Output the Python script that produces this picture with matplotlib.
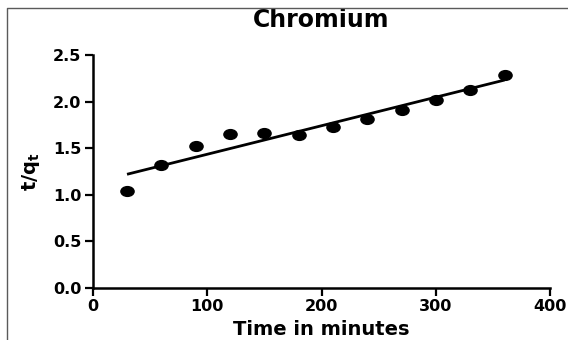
import numpy as np
import matplotlib
matplotlib.use("Agg")
import matplotlib.pyplot as plt
from matplotlib.path import Path
from matplotlib.transforms import Affine2D
from matplotlib.lines import Line2D

# Pseudo-second-order kinetics, chromium
time_min = [30, 60, 90, 120, 150, 180, 210, 240, 270, 300, 330, 360]
t_over_qt = [1.04, 1.32, 1.52, 1.65, 1.66, 1.64, 1.73, 1.81, 1.91, 2.02, 2.12, 2.29]
x_ticks = [0, 100, 200, 300, 400]
y_ticks = [0.0, 0.5, 1.0, 1.5, 2.0, 2.5]

plt.rcParams["font.family"] = "DejaVu Sans"
plt.rcParams["font.weight"] = "bold"
plt.rcParams["mathtext.fontset"] = "custom"
plt.rcParams["mathtext.rm"] = "DejaVu Sans:bold"
plt.rcParams["mathtext.it"] = "DejaVu Sans:bold"

fig = plt.figure(figsize=(5.68, 3.4), dpi=100)
ax = fig.add_axes([0.1632, 0.1529, 0.8057, 0.6853])

# slightly wide dots, like the original export
dot = Path.unit_circle().transformed(Affine2D().scale(1.35, 1.0))

x = np.array(time_min, dtype=float)
y = np.array(t_over_qt)
slope, intercept = np.polyfit(x, y, 1)
xf = np.array([x.min(), x.max()])
ax.plot(xf, slope * xf + intercept, color="black", lw=2.0, solid_capstyle="butt")
ax.plot(x, y, ls="none", marker=dot, ms=9.5, color="black")

ax.set_xlim(0, 400)
ax.set_ylim(0, 2.5)
ax.set_xticks(x_ticks)
ax.set_yticks(y_ticks)
ax.set_yticklabels([f"{v:.1f}" for v in y_ticks])
ax.spines[["top", "right"]].set_visible(False)
ax.spines[["left", "bottom"]].set_linewidth(1.8)
ax.tick_params(width=1.6, length=6, labelsize=11.5, pad=2)
for lab in ax.get_xticklabels() + ax.get_yticklabels():
    lab.set_fontweight("bold")

ax.set_title("Chromium", fontsize=17, fontweight="bold", pad=20)
ax.set_xlabel("Time in minutes", fontsize=14, fontweight="bold", labelpad=4)
ax.set_ylabel(r"$\mathrm{t/q_t}$", fontsize=14, labelpad=8)

# grey frame around the picture (left and top edges visible)
fx = 7 / 568
fy = 1 - 8 / 340
fig.add_artist(Line2D([fx, fx, 1], [0, fy, fy], transform=fig.transFigure,
                      color="#5a5a5a", lw=1.0))

fig.savefig("out.png", dpi=100)
plt.close(fig)
